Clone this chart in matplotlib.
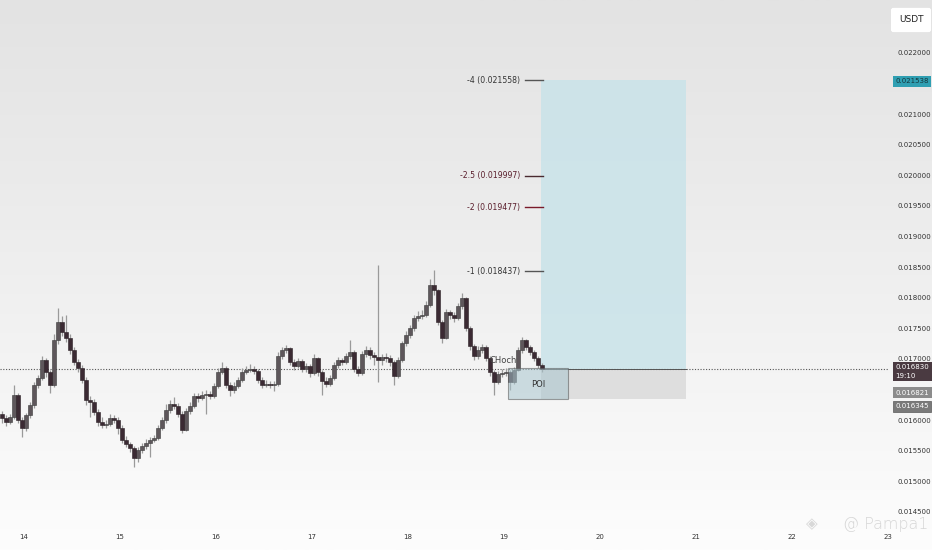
import numpy as np
import pandas as pd
import matplotlib
matplotlib.use("Agg")
import matplotlib.pyplot as plt
from matplotlib.patches import Rectangle
from matplotlib.colors import LinearSegmentedColormap

plt.rcParams['font.family'] = ['DejaVu Sans']

# ---------------- data ----------------
first_open = 0.016100
closes = [
    0.016036, 0.015971, 0.016052, 0.016412, 0.016003, 0.015872, 0.016085, 0.016248, 0.016575, 0.016689,
    0.016984, 0.016788, 0.016575, 0.017310, 0.017605, 0.017441, 0.017343, 0.017147, 0.016951, 0.016853,
    0.016657, 0.016330, 0.016297, 0.016134, 0.015971, 0.015921, 0.015938, 0.016036, 0.016003, 0.015872,
    0.015676, 0.015611, 0.015546, 0.015382, 0.015513, 0.015578, 0.015627, 0.015676, 0.015709, 0.015872,
    0.016003, 0.016167, 0.016265, 0.016232, 0.016101, 0.015840, 0.016150, 0.016232, 0.016395, 0.016363,
    0.016412, 0.016428, 0.016395, 0.016559, 0.016788, 0.016853, 0.016575, 0.016493, 0.016559, 0.016657,
    0.016788, 0.016820, 0.016837, 0.016804, 0.016657, 0.016575, 0.016591, 0.016575, 0.016591, 0.017049,
    0.017147, 0.017180, 0.016951, 0.016886, 0.016967, 0.016837, 0.016886, 0.016771, 0.017016, 0.016788,
    0.016640, 0.016591, 0.016689, 0.016902, 0.016984, 0.016951, 0.017049, 0.017114, 0.016837, 0.016771,
    0.017082, 0.017147, 0.017065, 0.017033, 0.016984, 0.017033, 0.017016, 0.016951, 0.016722, 0.016984,
    0.017261, 0.017392, 0.017506, 0.017670, 0.017703, 0.017719, 0.017882, 0.018209, 0.018127, 0.017605,
    0.017343, 0.017768, 0.017719, 0.017670, 0.017866, 0.017997, 0.017506, 0.017212, 0.017049, 0.017147,
    0.017196, 0.017016, 0.016788, 0.016624, 0.016755, 0.016771, 0.016788, 0.016624, 0.016820, 0.017147,
    0.017310, 0.017196, 0.017114, 0.017016, 0.016902, 0.016830,
]
highs = [
    0.016150, 0.016090, 0.016100, 0.016575, 0.016450, 0.016060, 0.016120, 0.016300, 0.016620, 0.016740,
    0.017050, 0.017020, 0.016820, 0.017400, 0.017833, 0.017700, 0.017719, 0.017400, 0.017200, 0.017000,
    0.016900, 0.016700, 0.016400, 0.016350, 0.016180, 0.016050, 0.016000, 0.016100, 0.016090, 0.016050,
    0.015920, 0.015740, 0.015650, 0.015580, 0.015560, 0.015620, 0.015690, 0.015720, 0.015760, 0.015920,
    0.016060, 0.016260, 0.016330, 0.016380, 0.016280, 0.016150, 0.016200, 0.016300, 0.016450, 0.016440,
    0.016470, 0.016490, 0.016480, 0.016600, 0.016850, 0.016951, 0.016880, 0.016620, 0.016620, 0.016700,
    0.016850, 0.016880, 0.016920, 0.016880, 0.016840, 0.016700, 0.016660, 0.016640, 0.016640, 0.017120,
    0.017200, 0.017230, 0.017200, 0.017000, 0.017020, 0.017000, 0.016940, 0.016920, 0.017080, 0.017040,
    0.016820, 0.016700, 0.016740, 0.016950, 0.017040, 0.017020, 0.017100, 0.017310, 0.017150, 0.016880,
    0.017130, 0.017220, 0.017200, 0.017120, 0.018536, 0.017080, 0.017100, 0.017060, 0.016980, 0.017030,
    0.017300, 0.017450, 0.017560, 0.017720, 0.017780, 0.017800, 0.017950, 0.018300, 0.018454, 0.018150,
    0.017640, 0.017820, 0.017800, 0.017760, 0.017920, 0.018078, 0.018020, 0.017540, 0.017250, 0.017210,
    0.017250, 0.017230, 0.017050, 0.016820, 0.016800, 0.016840, 0.016850, 0.016820, 0.016870, 0.017200,
    0.017359, 0.017330, 0.017230, 0.017140, 0.017050, 0.016930,
]
lows = [
    0.015960, 0.015900, 0.015930, 0.016020, 0.015950, 0.015725, 0.015830, 0.016040, 0.016200, 0.016520,
    0.016650, 0.016700, 0.016450, 0.016540, 0.017250, 0.017380, 0.017280, 0.017080, 0.016900, 0.016780,
    0.016600, 0.016250, 0.016050, 0.016080, 0.015900, 0.015870, 0.015880, 0.015900, 0.015950, 0.015780,
    0.015620, 0.015560, 0.015480, 0.015235, 0.015320, 0.015470, 0.015530, 0.015400, 0.015640, 0.015680,
    0.015840, 0.015960, 0.016120, 0.016180, 0.016050, 0.015791, 0.015820, 0.016100, 0.016200, 0.016300,
    0.016330, 0.016100, 0.016340, 0.016360, 0.016520, 0.016750, 0.016520, 0.016400, 0.016450, 0.016520,
    0.016620, 0.016760, 0.016780, 0.016750, 0.016600, 0.016520, 0.016540, 0.016520, 0.016480, 0.016560,
    0.017000, 0.017100, 0.016900, 0.016820, 0.016850, 0.016780, 0.016790, 0.016700, 0.016740, 0.016720,
    0.016411, 0.016540, 0.016560, 0.016660, 0.016860, 0.016900, 0.016920, 0.017000, 0.016780, 0.016720,
    0.016740, 0.017040, 0.017000, 0.016900, 0.016620, 0.016900, 0.016950, 0.016880, 0.016575, 0.016690,
    0.016950, 0.017220, 0.017350, 0.017460, 0.017620, 0.017650, 0.017680, 0.017850, 0.018050, 0.017560,
    0.017261, 0.017320, 0.017650, 0.017600, 0.017640, 0.017820, 0.017450, 0.017150, 0.016990, 0.017000,
    0.017100, 0.016960, 0.016720, 0.016411, 0.016590, 0.016700, 0.016720, 0.016493, 0.016590, 0.016800,
    0.017100, 0.017150, 0.017060, 0.016960, 0.016850, 0.016780,
]
start_time = "2024-01-13 18:30"   # first hourly candle

last_price = 0.016830
entry = 0.016830
stop = 0.016345
fib_levels = ["-4", "-2.5", "-2", "-1"]
fib_values = [0.021558, 0.019997, 0.019477, 0.018437]
target_label = 0.021538
mid_label = 0.016821
countdown = "19:10"
poi_top = 0.016860
# 0.0165 and 0.0215 are hidden behind the price badges in the original
y_ticks = [0.0145, 0.0150, 0.0155, 0.0160, 0.0170, 0.0175, 0.0180,
           0.0185, 0.0190, 0.0195, 0.0200, 0.0205, 0.0210, 0.0220]
x_days = [14, 15, 16, 17, 18, 19, 20, 21, 22, 23]

# ---------------- figure ----------------
W, H = 932, 550
fig = plt.figure(figsize=(W / 100, H / 100), dpi=100)
fig.patch.set_facecolor('white')

bg = fig.add_axes([0, 0, 1, 1], zorder=-5)
grad = np.linspace(0, 1, 256).reshape(-1, 1)
cmap_bg = LinearSegmentedColormap.from_list('bg', ['#e3e3e3', '#efefef', '#fdfdfd'])
bg.imshow(grad, aspect='auto', cmap=cmap_bg, extent=[0, 1, 0, 1], origin='upper')
bg.set_axis_off()

ax = fig.add_axes([0, 22 / H, 888 / W, 528 / H])
ax.patch.set_alpha(0)
for s in ax.spines.values():
    s.set_visible(False)

times = pd.date_range(start_time, periods=len(closes), freq="h")
xd = np.array([t.day + t.hour / 24 + t.minute / 1440 for t in times])
opens = [first_open] + closes[:-1]
o = np.array(opens); c = np.array(closes); hi = np.array(highs); lo = np.array(lows)

ax.set_xlim(13.75, 23.0)
ax.set_ylim(0.014238, 0.022866)

# candles
ax.vlines(xd, lo, hi, color='#9a9a9a', lw=0.9, zorder=3)
up = c >= o
bw = 0.8 / 24
body_bottom = np.minimum(o, c)
body_h = np.maximum(np.abs(c - o), 0.000015)
ax.bar(xd[up], body_h[up], bottom=body_bottom[up], width=bw, color='#5e575b',
       edgecolor='#3a3a3a', lw=0.4, zorder=4)
ax.bar(xd[~up], body_h[~up], bottom=body_bottom[~up], width=bw, color='#3b2a33',
       edgecolor='#2a1f24', lw=0.4, zorder=4)

# position tool: target (blue) and stop (grey)
x0 = 19 + 9.25 / 24
x1 = 20 + 21.5 / 24
ax.add_patch(Rectangle((x0, entry), x1 - x0, fib_values[0] - entry,
                       facecolor='#c9e3e9', edgecolor='none', alpha=0.85, zorder=1))
ax.add_patch(Rectangle((x0, stop), x1 - x0, entry - stop,
                       facecolor='#dcdcdc', edgecolor='none', alpha=0.9, zorder=1))
ax.plot([x0, x1], [entry, entry], color='#555555', lw=0.7, zorder=2)

# POI box
px0 = 19 + 1.0 / 24
px1 = 19 + 16.0 / 24
ax.add_patch(Rectangle((px0, stop), px1 - px0, poi_top - stop,
                       facecolor='#a9c6cf', edgecolor='#555555', lw=0.8, alpha=0.55, zorder=5))
ax.text((px0 + px1) / 2, (poi_top + stop) / 2 - 0.00002, "POI", ha='center', va='center',
        fontsize=6, color='#333333', zorder=6)
ax.text(18 + 23.8 / 24, 0.016970, "CHoch", ha='center', va='center', fontsize=6,
        color='#444444', zorder=6)

# fib extension labels
fx0 = 19 + 5.3 / 24
fx1 = 19 + 9.8 / 24
txt_cols = ['#333333', '#5a1e2c', '#5a1e2c', '#333333']
line_cols = ['#555555', '#4a2a30', '#7a1a2a', '#555555']
for lab, val, tc, lc in zip(fib_levels, fib_values, txt_cols, line_cols):
    ax.plot([fx0, fx1], [val, val], color=lc, lw=1.0, zorder=6)
    ax.text(fx0 - 1.2 / 24, val, f"{lab} ({val:.6f})", ha='right', va='center',
            fontsize=5.6, color=tc, zorder=6)

# current price dotted line
ax.axhline(last_price, color='#555555', lw=0.8, ls=(0, (1, 1.5)), zorder=2)

# axes ticks
ax.yaxis.tick_right()
ax.set_yticks(y_ticks)
ax.set_yticklabels([f"{v:.6f}" for v in y_ticks])
ax.tick_params(axis='y', length=0, pad=7, labelsize=5, labelcolor='#333333')
ax.set_xticks(x_days)
ax.set_xticklabels([str(d) for d in x_days])
ax.tick_params(axis='x', length=0, pad=4, labelsize=5, labelcolor='#333333')

# right-side price labels
ytr = ax.get_yaxis_transform()
lx = 1.0085
ax.text(lx, target_label, f"{target_label:.6f}", transform=ytr, ha='left', va='center',
        fontsize=5, color='#16363c', clip_on=False, zorder=10,
        bbox=dict(boxstyle='square,pad=0.35', fc='#2f9fb2', ec='none'))
ax.text(lx, last_price + 0.000085, f"{last_price:.6f}\n{countdown}", transform=ytr,
        ha='left', va='top', fontsize=5, color='white', clip_on=False, zorder=10,
        linespacing=1.5, bbox=dict(boxstyle='square,pad=0.35', fc='#4a3a41', ec='none'))
ax.text(lx, 0.016450, f"{mid_label:.6f}", transform=ytr, ha='left', va='center',
        fontsize=5, color='white', clip_on=False, zorder=10,
        bbox=dict(boxstyle='square,pad=0.35', fc='#8c8c8c', ec='none'))
ax.text(lx, 0.016225, f"{stop:.6f}", transform=ytr, ha='left', va='center',
        fontsize=5, color='white', clip_on=False, zorder=10,
        bbox=dict(boxstyle='square,pad=0.35', fc='#7a7a7a', ec='#5a5a5a', lw=0.5))

# currency badge
fig.text(911 / W, 1 - 20 / H, "USDT", ha='center', va='center', fontsize=6.5, color='#222222',
         bbox=dict(boxstyle='round,pad=0.9,rounding_size=0.3', fc='white', ec='#e0e0e0', lw=0.5))

# watermark
fig.text(812 / W, 1 - 524 / H, "◈", ha='center', va='center', fontsize=11, color='#d8d8d8')
fig.text(928 / W, 1 - 524 / H, "@ Pampa1", ha='right', va='center', fontsize=11.5,
         color='#d6d6d6', fontweight='light')

fig.savefig("out.png", dpi=100)
